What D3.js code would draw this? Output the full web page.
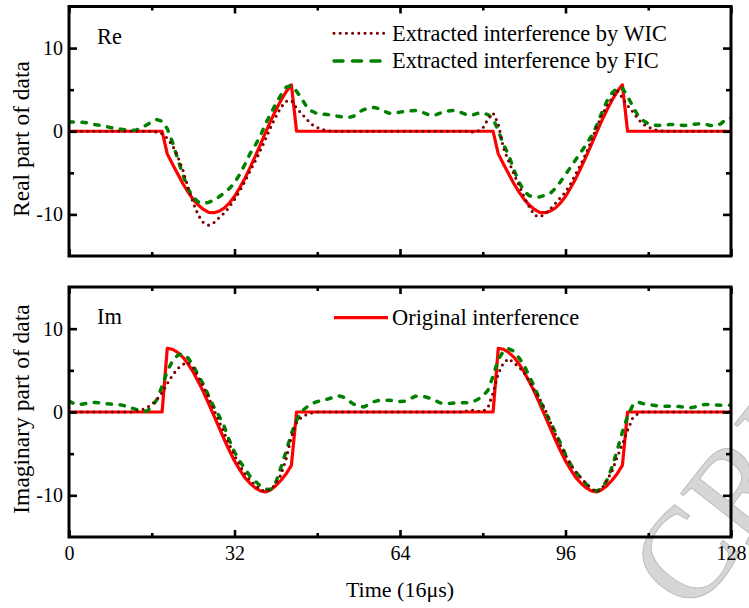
<!DOCTYPE html>
<html><head><meta charset="utf-8">
<script src="https://cdn.jsdelivr.net/npm/d3@7"></script>
<style>
body{margin:0;background:#fff}
svg{display:block}
text{font-family:"Liberation Serif","Times New Roman",serif;fill:#000}
</style>
</head><body>
<svg id="c" width="749" height="608"></svg>
<script>
// ---- data (sample index 0..128, unit: 16 us) ----
const xTicksMajor = [0, 32, 64, 96, 128];
const xTicksMinor = [16, 48, 80, 112];
const yTicksMajor = [-10, 0, 10];
const yTicksMinor = [-5, 5];

const origRe = [
 0,0,0,0,0,0,0,0,0,0,
 0,0,0,0,0,0,0,0,0,-2.72,
 -3.94,-5.12,-6.28,-7.29,-8.19,-8.88,-9.40,-9.75,-9.79,-9.62,
 -9.24,-8.64,-7.85,-6.80,-5.67,-4.37,-3.03,-1.62,-0.17,1.24,
 2.55,3.73,4.77,5.58,0,0,0,0,0,0,
 0,0,0,0,0,0,0,0,0,0,
 0,0,0,0,0,0,0,0,0,0,
 0,0,0,0,0,0,0,0,0,0,
 0,0,0,-2.72,-3.94,-5.12,-6.28,-7.29,-8.19,-8.88,
 -9.40,-9.75,-9.79,-9.62,-9.24,-8.64,-7.85,-6.80,-5.67,-4.37,
 -3.03,-1.62,-0.17,1.24,2.55,3.73,4.77,5.58,0,0,
 0,0,0,0,0,0,0,0,0,0,
 0,0,0,0,0,0,0,0,0
];
const origIm = [
 0,0,0,0,0,0,0,0,0,0,
 0,0,0,0,0,0,0,0,0,7.63,
 7.53,7.16,6.59,5.78,4.81,3.64,2.38,1.02,-0.41,-1.85,
 -3.27,-4.62,-5.87,-6.92,-7.87,-8.55,-9.11,-9.46,-9.60,-9.32,
 -8.84,-8.19,-7.40,-6.41,0,0,0,0,0,0,
 0,0,0,0,0,0,0,0,0,0,
 0,0,0,0,0,0,0,0,0,0,
 0,0,0,0,0,0,0,0,0,0,
 0,0,0,7.63,7.53,7.16,6.59,5.78,4.81,3.64,
 2.38,1.02,-0.41,-1.85,-3.27,-4.62,-5.87,-6.92,-7.87,-8.55,
 -9.11,-9.46,-9.60,-9.32,-8.84,-8.19,-7.40,-6.41,0,0,
 0,0,0,0,0,0,0,0,0,0,
 0,0,0,0,0,0,0,0,0
];
const wicRe = [
 0,0,0,0,0,0,0,0,0,0,
 0,0,0,0,0,0,0,-0.1,-0.3,-0.85,
 -1.7,-3.0,-4.6,-6.7,-8.6,-10.1,-11.0,-11.3,-11.0,-10.4,
 -9.85,-9.1,-8.2,-7.2,-6.05,-4.8,-3.6,-2.3,-0.95,0.5,
 1.75,2.9,3.6,3.7,2.8,2.1,1.4,0.8,0.45,0.2,
 0.05,0,0,0,0,0,0,0,0,0,
 0,0,0,0,0,0,0,0,0,0,
 0,0,0,0,0,0,0,0,-0.1,0,
 0.35,1.45,2.2,0.9,-2.0,-3.6,-5.1,-6.5,-7.9,-9.1,
 -10.1,-10.3,-10.0,-9.4,-8.7,-8.0,-7.3,-6.3,-5.1,-3.9,
 -2.6,-1.1,0.45,1.9,3.0,4.0,4.9,4.0,3.1,2.35,
 1.5,0.85,0.5,0.25,0.05,0,0,0,0,0,
 0,0,0,0,0,0,0,0,0
];
const wicIm = [
 0,0,0,0,0,0,0,0,0,0,
 0,0,0,0.1,0.25,0.5,0.9,1.5,2.3,3.4,
 4.4,5.2,5.7,5.95,5.3,4.2,3.0,1.7,0.3,-1.1,
 -2.5,-3.9,-5.2,-6.4,-7.4,-8.2,-8.8,-9.3,-9.55,-9.3,
 -8.6,-7.5,-5.6,-3.0,-1.3,-0.6,-0.3,-0.1,0,0,
 0,0,0,0,0,0,0,0,0,0,
 0,0,0,0,0,0,0,0,0,0,
 0,0,0,0,0,0,0,0.15,0.2,0.1,
 0.05,0.5,2.3,4.6,5.9,6.4,5.9,5.4,4.7,3.7,
 2.6,1.6,0.4,-1.1,-2.6,-4.0,-5.2,-6.3,-7.2,-7.9,
 -8.6,-9.2,-9.6,-9.2,-8.2,-7.1,-5.4,-3.9,-2.2,-0.7,
 -0.2,0,0,0,0,0,0,0,0,0,
 0,0,0,0,0,0,0,0,0
];
const ficRe = [
 1.1,1.1,1.1,1.05,0.95,0.8,0.7,0.6,0.45,0.35,
 0.25,0.15,0.1,0.15,0.4,0.75,1.15,1.4,1.2,0.3,
 -1.3,-3.3,-5.2,-6.9,-7.95,-8.5,-8.7,-8.55,-8.3,-7.9,
 -7.4,-6.9,-6.2,-5.2,-4.0,-2.7,-1.7,-0.55,0.9,2.1,
 3.3,4.4,5.3,5.5,4.8,3.9,2.9,2.4,2.1,2.05,
 2.0,1.9,1.8,1.7,1.65,1.8,2.3,2.6,2.8,2.85,
 2.7,2.4,2.15,2.15,2.3,2.4,2.45,2.5,2.4,2.1,
 1.9,2.0,2.25,2.4,2.5,2.45,2.2,1.95,1.95,2.15,
 2.2,2.0,1.5,0.1,-1.6,-2.85,-4.6,-6.1,-7.2,-7.75,
 -7.9,-7.9,-7.7,-7.5,-6.9,-6.1,-5.2,-4.3,-3.4,-2.5,
 -1.6,-0.6,0.65,2.2,3.6,4.6,5.2,5.2,4.2,3.0,
 1.9,1.3,0.9,0.75,0.7,0.75,0.8,0.8,0.75,0.7,
 0.75,0.85,0.9,0.85,0.7,0.65,0.9,1.4,1.6
];
const ficIm = [
 1.3,1.0,0.9,1.0,1.1,1.15,1.1,1.0,0.95,0.9,
 0.85,0.7,0.5,0.3,0.1,0.1,0.6,1.5,3.1,4.9,
 6.1,6.8,7.0,6.5,5.6,4.4,3.3,1.95,0.6,-0.45,
 -1.7,-3.4,-4.8,-5.9,-6.8,-7.7,-8.3,-8.9,-9.25,-9.3,
 -8.4,-6.6,-4.7,-2.6,-1.0,0.1,0.6,1.0,1.25,1.4,
 1.55,1.75,1.95,1.8,1.4,0.95,0.7,0.6,0.9,1.25,
 1.4,1.4,1.4,1.35,1.25,1.3,1.6,1.9,1.9,1.8,
 1.6,1.3,1.05,1.0,1.05,1.1,1.1,1.1,1.2,1.5,
 1.9,2.6,4.3,6.3,7.3,7.6,7.3,6.5,5.6,4.3,
 3.0,1.5,0.1,-1.1,-2.4,-3.7,-5.1,-6.3,-7.2,-8.0,
 -8.65,-9.1,-9.5,-9.2,-8.2,-6.6,-4.6,-2.4,-0.5,0.8,
 1.2,1.0,0.9,0.8,0.7,0.7,0.7,0.7,0.65,0.55,
 0.5,0.6,0.8,0.9,0.9,0.85,0.8,0.8,0.8
];

const labelsWIC = "Extracted interference by WIC";
const labelsFIC = "Extracted interference by FIC";
const labelOrig = "Original interference";
const watermark = "CRIPT";

// ---- drawing ----
const svg = d3.select("#c");
const X0 = 69, X1 = 731;
const x = d3.scaleLinear().domain([0, 128]).range([X0, X1]);

// watermark (behind everything, partly outside the page like the reference)
svg.append("text")
  .attr("transform", "translate(692,617) rotate(-52)")
  .style("font-size", "130px").style("fill", "#d6d6d6")
  .attr("stroke", "#bdbdbd").attr("stroke-width", 1)
  .text(watermark);

const styles = {
  orig: {stroke: "#ff0000", width: 3.2, dash: null, cap: "butt"},
  fic:  {stroke: "#008000", width: 3.5, dash: "4.4,8.6", cap: "round"},
  wic:  {stroke: "#7a0000", width: 3.1, dash: "0,6.2", cap: "round"}
};

const panels = [
  {tag: "Re", top: 6.5, bottom: 256, orig: origRe, wic: wicRe, fic: ficRe,
   title: "Real part of data", titleY: 139, showX: false},
  {tag: "Im", top: 287, bottom: 537, orig: origIm, wic: wicIm, fic: ficIm,
   title: "Imaginary part of data", titleY: 409, showX: true}
];

panels.forEach((p, k) => {
  const y = d3.scaleLinear().domain([-15, 15]).range([p.bottom, p.top]);
  const g = svg.append("g");
  const clipId = "clip" + k;
  svg.append("clipPath").attr("id", clipId).append("rect")
    .attr("x", X0).attr("y", p.top).attr("width", X1 - X0).attr("height", p.bottom - p.top);

  const line = d3.line().x((d, i) => x(i)).y(d => y(d));
  const lines = g.append("g").attr("clip-path", `url(#${clipId})`);
  [["orig", p.orig], ["fic", p.fic], ["wic", p.wic]].forEach(([key, data]) => {
    const s = styles[key];
    lines.append("path").datum(data).attr("d", line)
      .attr("fill", "none").attr("stroke", s.stroke).attr("stroke-width", s.width)
      .attr("stroke-dasharray", s.dash).attr("stroke-linecap", s.cap)
      .attr("stroke-linejoin", "round");
  });

  // axes (inward ticks)
  const addAxis = (axis, tx, ty) => {
    const a = g.append("g").attr("transform", `translate(${tx},${ty})`).call(axis);
    a.attr("font-family", null).attr("font-size", null);
    a.select(".domain").remove();
    a.selectAll(".tick line").attr("stroke", "#000").attr("stroke-width", 2.6);
    a.selectAll("text").style("font-family", '"Liberation Serif","Times New Roman",serif')
      .style("font-size", "20px").attr("fill", "#000");
    return a;
  };
  const plain = d => String(d);
  addAxis(d3.axisBottom(x).tickValues(xTicksMajor).tickSize(-7).tickPadding(9)
    .tickFormat(p.showX ? plain : () => ""), 0, p.bottom);
  addAxis(d3.axisBottom(x).tickValues(xTicksMinor).tickSize(-4).tickFormat(() => ""), 0, p.bottom);
  addAxis(d3.axisTop(x).tickValues(xTicksMajor).tickSize(-7).tickFormat(() => ""), 0, p.top);
  addAxis(d3.axisTop(x).tickValues(xTicksMinor).tickSize(-4).tickFormat(() => ""), 0, p.top);
  addAxis(d3.axisLeft(y).tickValues(yTicksMajor).tickSize(-8).tickPadding(6)
    .tickFormat(plain), X0, 0);
  addAxis(d3.axisLeft(y).tickValues(yTicksMinor).tickSize(-5).tickFormat(() => ""), X0, 0);
  addAxis(d3.axisRight(y).tickValues(yTicksMajor).tickSize(-8).tickFormat(() => ""), X1, 0);
  addAxis(d3.axisRight(y).tickValues(yTicksMinor).tickSize(-5).tickFormat(() => ""), X1, 0);

  // frame
  g.append("rect").attr("x", X0).attr("y", p.top).attr("width", X1 - X0).attr("height", p.bottom - p.top)
    .attr("fill", "none").attr("stroke", "#000").attr("stroke-width", 3);

  // panel tag
  g.append("text").attr("x", 97).attr("y", p.top + 37).style("font-size", "22.4px").text(p.tag);

  // y title
  g.append("text").attr("transform", `translate(29,${p.titleY}) rotate(-90)`)
    .attr("text-anchor", "middle").style("font-size", "23.5px").text(p.title);
});

// legends
const legend = (yLine, yText, key, label, dash) => {
  const s = styles[key];
  svg.append("line").attr("x1", 334).attr("x2", 388).attr("y1", yLine).attr("y2", yLine)
    .attr("stroke", s.stroke).attr("stroke-width", s.width)
    .attr("stroke-dasharray", dash === undefined ? s.dash : dash).attr("stroke-linecap", s.cap);
  svg.append("text").attr("x", 392).attr("y", yText).style("font-size", "22.4px").text(label);
};
legend(33.3, 40.7, "wic", labelsWIC);
legend(61, 68.3, "fic", labelsFIC, "9,9.5");
legend(317.7, 325, "orig", labelOrig);

// x title
svg.append("text").attr("x", 400).attr("y", 596.5).attr("text-anchor", "middle")
  .style("font-size", "22px").text("Time (16\u03bcs)");
</script>
</body></html>
